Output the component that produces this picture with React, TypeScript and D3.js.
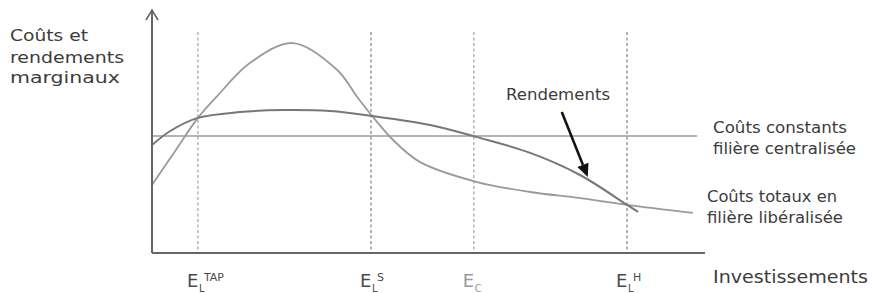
import React from "react";
import * as d3 from "d3";

// values in arbitrary units (x: investment 0-100, y: 0-100)
const rendementsX = [0, 3.3, 8.3, 15.9, 23.7, 32.2, 39.8, 50.3, 58.8, 68.4, 77.4, 85.9, 87.9];
const rendementsY = [44.4, 50.2, 55.6, 58.0, 58.8, 58.4, 56.4, 52.7, 47.7, 41.2, 32.1, 19.8, 16.9];

const coutsX = [0, 4.2, 8.3, 11.8, 17.7, 25.5, 33.5, 37.1, 39.8, 43.6, 48.5, 58.8, 68.4, 77.4, 85.9, 97.8];
const coutsY = [28.0, 42.0, 55.6, 64.6, 78.2, 86.4, 75.3, 64.2, 56.4, 46.5, 37.4, 29.2, 25.1, 22.6, 19.8, 16.5];

const coutConstant = 48.1;
const coutConstantEnd = 98.6;

const seuils = [8.3, 39.6, 58.2, 85.9];
const seuilSub = ["L", "L", "C", "L"];
const seuilSup = ["TAP", "S", "", "H"];
const seuilTop = 90.9;

const arrowFrom = [74.1, 58.0];
const arrowTo = [78.8, 31.3];

const width = 872;
const height = 293;

const App = () => {
  const x = d3.scaleLinear().domain([0, 100]).range([152, 705]);
  const y = d3.scaleLinear().domain([0, 100]).range([253, 10]);

  const line = d3
    .line<[number, number]>()
    .x((d) => x(d[0]))
    .y((d) => y(d[1]))
    .curve(d3.curveCatmullRom.alpha(0.5));

  const rendements = rendementsX.map((v, i) => [v, rendementsY[i]] as [number, number]);
  const couts = coutsX.map((v, i) => [v, coutsY[i]] as [number, number]);

  // arrow geometry
  const ax1 = x(arrowFrom[0]);
  const ay1 = y(arrowFrom[1]);
  const ax2 = x(arrowTo[0]);
  const ay2 = y(arrowTo[1]);
  const ang = Math.atan2(ay2 - ay1, ax2 - ax1);
  const headL = 13;
  const headW = 6;
  const bx = ax2 - headL * Math.cos(ang);
  const by = ay2 - headL * Math.sin(ang);
  const head = [
    [ax2, ay2],
    [bx + headW * Math.sin(ang), by - headW * Math.cos(ang)],
    [bx - headW * Math.sin(ang), by + headW * Math.cos(ang)],
  ];

  const font = "'DejaVu Sans', sans-serif";
  const txt = "#3c3c3c";

  return (
    <svg
      width={width}
      height={height}
      style={{ position: "absolute", left: 0, top: 0, background: "#fff" }}
      fontFamily={font}
    >
      {/* constant cost line */}
      <line
        x1={x(0)}
        x2={x(coutConstantEnd)}
        y1={y(coutConstant)}
        y2={y(coutConstant)}
        stroke="#b4b4b4"
        strokeWidth={2}
      />

      {/* dashed thresholds */}
      {seuils.map((s, i) => (
        <line
          key={i}
          x1={x(s)}
          x2={x(s)}
          y1={y(seuilTop)}
          y2={y(0)}
          stroke={i === 0 || i === 2 ? "#a0a0a0" : "#808080"}
          strokeWidth={1.2}
          strokeDasharray="3,2.5"
        />
      ))}

      {/* curves */}
      <path d={line(couts) || ""} fill="none" stroke="#9a9a9a" strokeWidth={1.8} />
      <path d={line(rendements) || ""} fill="none" stroke="#777" strokeWidth={2} />

      {/* axes */}
      <line x1={x(0)} x2={x(0)} y1={y(0)} y2={y(100)} stroke="#666" strokeWidth={2} />
      <line x1={x(0)} x2={x(100)} y1={y(0)} y2={y(0)} stroke="#666" strokeWidth={2} />
      <path
        d={`M${x(0) - 6},${y(100) + 10} L${x(0)},${y(100)} L${x(0) + 6},${y(100) + 10}`}
        fill="none"
        stroke="#666"
        strokeWidth={1.6}
      />

      {/* arrow to Rendements */}
      <line x1={ax1} y1={ay1} x2={bx} y2={by} stroke="#111" strokeWidth={2.6} />
      <polygon points={head.map((p) => p.join(",")).join(" ")} fill="#111" />

      {/* labels */}
      <g fill={txt} fontSize={16}>
        <text x={10} y={41} textLength={78} lengthAdjust="spacingAndGlyphs">Coûts et</text>
        <text x={10} y={63} textLength={114} lengthAdjust="spacingAndGlyphs">rendements</text>
        <text x={10} y={83} textLength={110} lengthAdjust="spacingAndGlyphs">marginaux</text>

        <text x={506} y={100} textLength={104} lengthAdjust="spacingAndGlyphs">Rendements</text>

        <text x={713} y={133} textLength={134} lengthAdjust="spacingAndGlyphs">Coûts constants</text>
        <text x={713} y={154} textLength={143} lengthAdjust="spacingAndGlyphs">filière centralisée</text>

        <text x={707} y={202} textLength={130} lengthAdjust="spacingAndGlyphs">Coûts totaux en</text>
        <text x={707} y={223} textLength={136} lengthAdjust="spacingAndGlyphs">filière libéralisée</text>

        <text x={713} y={283} fontSize={17} textLength={155} lengthAdjust="spacingAndGlyphs">Investissements</text>
      </g>

      {/* threshold labels */}
      {seuils.map((s, i) => (
        <g key={i} fill={i === 2 ? "#9a9a9a" : "#4a4a4a"} transform={`translate(${x(s) - 11},287)`}>
          <text fontSize={18}>E</text>
          <text x={12} y={5} fontSize={10}>{seuilSub[i]}</text>
          {seuilSup[i] && (
            <text x={17} y={-6} fontSize={11}>{seuilSup[i]}</text>
          )}
        </g>
      ))}
    </svg>
  );
};

export default App;
